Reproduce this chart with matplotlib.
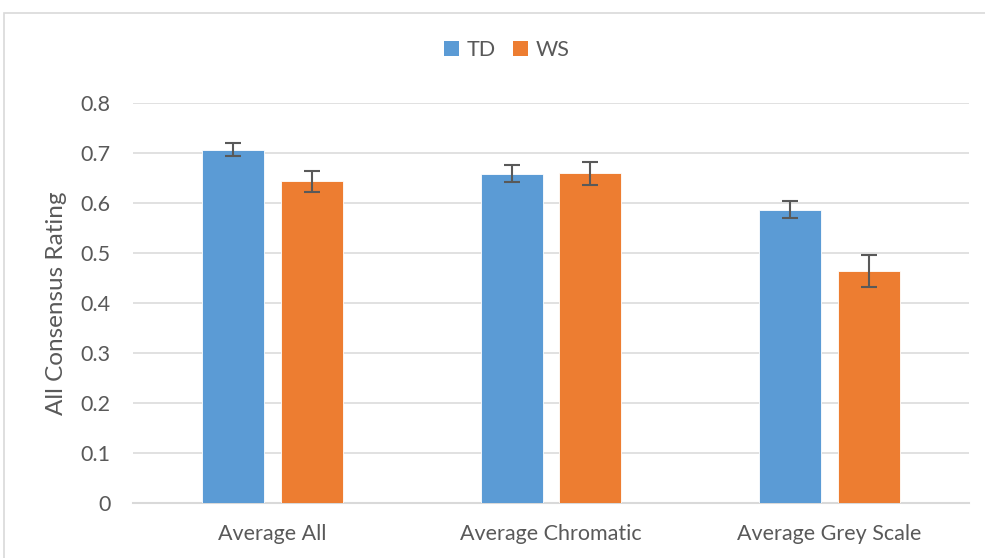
import matplotlib
matplotlib.use("Agg")
import matplotlib.pyplot as plt
from matplotlib.patches import Rectangle, Patch
import numpy as np

categories = ["Average All", "Average Chromatic", "Average Grey Scale"]
td_values = [0.707, 0.659, 0.587]
ws_values = [0.644, 0.660, 0.464]
td_errors = [0.013, 0.017, 0.017]
ws_errors = [0.021, 0.023, 0.032]
series_names = ["TD", "WS"]
y_ticks = [0, 0.1, 0.2, 0.3, 0.4, 0.5, 0.6, 0.7, 0.8]
y_tick_labels = ["0", "0.1", "0.2", "0.3", "0.4", "0.5", "0.6", "0.7", "0.8"]

plt.rcParams["font.family"] = ["Lato", "DejaVu Sans"]

td_color = "#5B9BD5"
ws_color = "#ED7D31"
text_color = "#595959"
grid_color = "#D9D9D9"

fig = plt.figure(figsize=(9.85, 5.58), dpi=100)
fig.patch.set_facecolor("white")

# outer chart border
fig.patches.append(Rectangle((4 / 985, -0.2), 1.2, 1.2 - 13 / 558,
                             transform=fig.transFigure, fill=False,
                             edgecolor="#D9D9D9", linewidth=1.2, zorder=0))

ax = fig.add_axes([133 / 985, 1 - 503 / 558, (969 - 133) / 985, (503 - 103) / 558])

x = np.arange(len(categories))
width = 0.222
offset = 0.141
err_kw = dict(ecolor="#595959", elinewidth=1.5, capsize=5.5, capthick=1.5)
ax.bar(x - offset, td_values, width, yerr=td_errors, color=td_color,
       edgecolor="white", linewidth=0.6, error_kw=err_kw, zorder=3, label=series_names[0])
ax.bar(x + offset, ws_values, width, yerr=ws_errors, color=ws_color,
       edgecolor="white", linewidth=0.6, error_kw=err_kw, zorder=3, label=series_names[1])

ax.set_xlim(-0.5, len(categories) - 0.5)
ax.set_ylim(0, 0.8)
ax.set_yticks(y_ticks)
ax.set_yticklabels(y_tick_labels)
ax.set_xticks(x)
ax.set_xticklabels(categories)

ax.yaxis.grid(True, color=grid_color, linewidth=1.1, zorder=0)
ax.set_axisbelow(True)
for side in ["top", "right", "left"]:
    ax.spines[side].set_visible(False)
ax.spines["bottom"].set_color(grid_color)
ax.spines["bottom"].set_linewidth(1.5)

ax.tick_params(axis="both", length=0, colors=text_color, labelsize=15.5)
ax.tick_params(axis="y", pad=16)
ax.tick_params(axis="x", pad=15)

ax.set_ylabel("All Consensus Rating", fontsize=17.5, color=text_color, labelpad=10)

handles = [Patch(facecolor=td_color, label=series_names[0]),
           Patch(facecolor=ws_color, label=series_names[1])]
fig.legend(handles=handles, loc="center", bbox_to_anchor=(507 / 985, 1 - 50 / 558),
           ncol=2, frameon=False, fontsize=15.5, labelcolor=text_color,
           handlelength=0.7, handleheight=0.7, handletextpad=0.35, columnspacing=0.8)

fig.savefig("out.png", dpi=100, facecolor="white")
